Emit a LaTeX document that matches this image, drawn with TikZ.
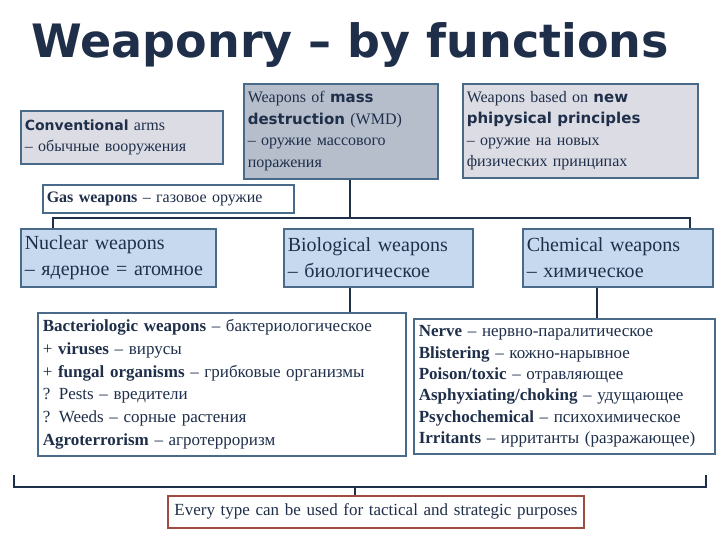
\documentclass[tikz,border=0pt]{standalone}
\usepackage{fontspec}
\setmainfont{Liberation Serif}
\newfontfamily\headfont{DejaVu Sans}
\begin{document}
\begin{tikzpicture}[x=1pt,y=-1pt,
  box/.style={draw=frame,line width=1.6pt,inner sep=4pt,align=left,anchor=north west,text=navy,font=\fontsize{17}{21}\selectfont},
  link/.style={draw=navy,line width=2.2pt}]
\definecolor{navy}{HTML}{1F2F4A}
\definecolor{frame}{HTML}{4A6A8A}
\definecolor{lgray}{HTML}{DCDCE4}
\definecolor{dgray}{HTML}{B6BECC}
\definecolor{lblue}{HTML}{C6D9EF}
\definecolor{brick}{HTML}{A04A40}
\useasboundingbox (0,0) rectangle (720,540);
\fill[white] (0,0) rectangle (720,540);
\node[anchor=west,text=navy,font=\headfont\bfseries\fontsize{46}{50}\selectfont] (title) at (28,45) {Weaponry – by functions};
\node[box,fill=lgray,text width=194pt,minimum height=53pt,font=\fontsize{16}{21}\selectfont] (conv) at (20,110) {{\headfont\bfseries\fontsize{14}{19}\selectfont Conventional} arms\\– обычные вооружения};
\node[box,fill=dgray,minimum height=95pt,text width=186pt,font=\fontsize{16}{21.5}\selectfont] (wmd) at (243,83) {Weapons of {\headfont\bfseries\fontsize{15}{19}\selectfont mass}\\{\headfont\bfseries\fontsize{15}{19}\selectfont destruction} (WMD)\\– оружие массового\\поражения};
\node[box,fill=lgray,minimum height=94pt,text width=227pt,font=\fontsize{16}{21.5}\selectfont] (npp) at (462,83) {Weapons based on {\headfont\bfseries\fontsize{15}{19}\selectfont new}\\{\headfont\bfseries\fontsize{15}{19}\selectfont phipysical principles}\\– оружие на новых\\физических принципах};
\node[box,fill=white,text width=243pt,minimum height=28pt,anchor=west,font=\fontsize{16}{20}\selectfont] (gas) at (42,199) {\textbf{Gas weapons} – газовое оружие};
\coordinate (hl) at (53,218);
\coordinate (hr) at (690,218);
\coordinate (hc) at (350,218);
\coordinate (cc) at (597,300);
\node[box,fill=lblue,text width=187pt,minimum height=58pt,font=\fontsize{20}{26}\selectfont] (nuc) at (20,228) {Nuclear weapons\\– ядерное = атомное};
\node[box,fill=lblue,text width=181pt,minimum height=58pt,font=\fontsize{20}{26}\selectfont] (bio) at (283,228) {Biological weapons\\– биологическое};
\node[box,fill=lblue,text width=182pt,minimum height=58pt,font=\fontsize{20}{26}\selectfont] (chem) at (522,228) {Chemical weapons\\– химическое};
\node[box,fill=white,text width=358pt,minimum height=143pt,inner sep=5pt,font=\fontsize{17}{22.8}\selectfont] (biol) at (37,312) {\textbf{Bacteriologic weapons} – бактериологическое\\+ \textbf{viruses} – вирусы\\+ \textbf{fungal organisms} – грибковые организмы\\? Pests – вредители\\? Weeds – сорные растения\\*\textbf{Agroterrorism} – агротерроризм};
\node[box,fill=white,text width=291pt,minimum height=135pt,inner sep=5pt,font=\fontsize{17}{21.3}\selectfont] (chl) at (413,318) {\textbf{Nerve} – нервно-паралитическое\\\textbf{Blistering} – кожно-нарывное\\\textbf{Poison/toxic} – отравляющее\\\textbf{Asphyxiating/choking} – удущающее\\\textbf{Psychochemical} – психохимическое\\\textbf{Irritants} – ирританты (разражающее)};
\node[box,draw=brick,fill=white,text width=408pt,minimum height=32pt,anchor=north,align=center,font=\fontsize{17}{20}\selectfont] (all) at (376,495) {Every type can be used for tactical and strategic purposes};
\draw[link] (hc |- wmd.south) -- (hc);
\draw[link] (53,228) -- (hl) -- (hr) -- (690,228);
\draw[link] (hc |- bio.south) -- (hc |- biol.north);
\draw[link] (cc |- chem.south) -- (cc |- chl.north);
\coordinate (bl) at (14,475);
\coordinate (br) at (706,475);
\coordinate (bc) at (355,487);
\draw[link] (bl) -- (14,487) -- (706,487) -- (br);
\draw[link] (bc) -- (all.north -| bc);
\end{tikzpicture}
\end{document}
